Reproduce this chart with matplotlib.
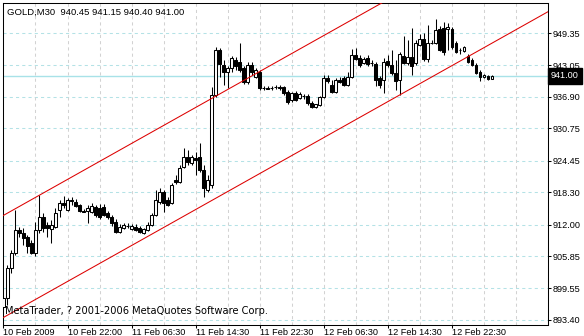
import matplotlib
matplotlib.use('Agg')
import matplotlib.pyplot as plt
import numpy as np

# GOLD M30 bars (oldest first)
opens = [
    895.9, 897.7, 903.5, 906.4, 910.95, 910.4, 909.6, 908.4, 906.4, 910.95,
    913.5, 911.9, 911.1, 911.5, 914.85, 916.2, 914.85, 916.8, 916.4, 915.8,
    914.65, 914.65, 914.5, 915.4, 915.2, 915.4, 914.3, 913.5, 912.5, 910.6,
    911.3, 911.7, 911.1, 911.5, 911.3, 910.4, 910.95, 911.9, 913.9, 916.4,
    918.3, 916.8, 916.2, 920.7, 920.3, 923.2, 925.2, 924.0, 925.0, 925.2,
    922.65, 918.75, 919.7, 937.3, 946.05, 943.1, 941.75, 942.5, 944.1, 943.7,
    942.5, 939.8, 943.1, 940.8, 941.75, 938.6, 938.6, 938.6, 938.8, 938.8,
    938.8, 937.85, 936.3, 937.7, 936.7, 937.1, 937.1, 935.7, 934.95, 935.3,
    936.9, 940.6, 939.2, 937.85, 940.2, 940.6, 939.2, 940.8, 945.1, 944.5,
    943.5, 944.5, 943.5, 943.3, 940.6, 940.2, 943.9, 943.1, 941.6, 940.2,
    944.9, 943.5, 944.7, 943.5, 947.0, 948.2, 944.3, 947.4, 947.4, 950.1,
    950.3, 950.1, 950.1, 947.4, 946.05, 945.85, 944.9, 944.1, 943.1, 941.75,
    940.8, 941.0, 940.45]
highs = [
    898.1, 904.1, 907.0, 914.85, 911.5, 911.3, 910.0, 909.0, 912.5, 917.8,
    914.3, 912.5, 912.9, 915.2, 916.8, 917.6, 917.2, 917.4, 917.0, 916.0,
    915.0, 915.8, 916.2, 915.8, 916.0, 916.0, 914.7, 913.9, 913.1, 912.1,
    912.3, 912.3, 912.1, 912.1, 911.7, 911.3, 912.5, 914.3, 918.75, 919.1,
    918.75, 917.4, 920.1, 921.7, 923.6, 926.9, 926.55, 925.6, 926.2, 927.9,
    923.6, 921.7, 938.8, 946.6, 946.4, 944.1, 942.9, 944.9, 944.7, 947.4,
    942.9, 943.7, 943.7, 942.5, 942.15, 939.0, 939.0, 939.0, 939.2, 939.2,
    939.0, 938.25, 937.85, 938.05, 937.85, 937.5, 937.5, 936.1, 935.5, 937.1,
    941.2, 941.2, 940.2, 940.6, 940.8, 941.0, 941.75, 946.2, 946.4, 945.1,
    944.7, 945.1, 944.1, 943.7, 941.0, 944.5, 945.1, 946.05, 944.1, 945.7,
    948.8, 948.0, 950.3, 948.0, 949.2, 949.35, 950.9, 948.0, 952.1, 950.7,
    951.5, 951.3, 950.5, 947.8, 946.4, 946.8, 945.3, 944.5, 943.5, 942.15,
    941.4, 941.2, 941.15]
lows = [
    893.8, 896.3, 902.5, 906.0, 909.6, 908.0, 906.4, 906.3, 905.9, 910.4,
    910.6, 909.6, 908.4, 911.3, 913.5, 915.2, 914.7, 915.8, 915.4, 914.5,
    914.5, 912.3, 914.3, 913.5, 913.1, 913.7, 913.1, 911.7, 910.4, 910.4,
    911.1, 911.3, 910.95, 910.8, 910.4, 910.2, 910.8, 911.7, 913.7, 916.0,
    914.5, 915.6, 916.0, 919.9, 920.1, 923.0, 923.6, 923.6, 921.7, 922.3,
    917.4, 918.4, 919.1, 936.9, 940.8, 939.2, 938.6, 941.75, 942.15, 941.75,
    939.4, 939.4, 941.2, 940.6, 938.25, 938.25, 938.4, 938.25, 938.4, 938.25,
    937.3, 935.5, 935.9, 936.1, 936.5, 936.5, 935.3, 934.75, 934.75, 935.1,
    936.7, 939.6, 937.7, 937.7, 939.6, 939.0, 939.0, 940.6, 944.1, 942.7,
    943.3, 942.9, 942.9, 939.0, 938.6, 937.7, 942.7, 941.2, 938.25, 937.3,
    943.3, 943.1, 941.2, 943.1, 946.8, 943.9, 943.7, 947.2, 947.2, 945.9,
    945.1, 946.05, 946.2, 945.5, 945.3, 945.65, 943.5, 942.9, 941.4, 940.0,
    940.6, 940.2, 940.40]
closes = [
    897.7, 903.5, 906.4, 910.95, 910.4, 909.4, 907.8, 906.4, 910.95, 913.5,
    911.3, 911.3, 911.9, 914.3, 916.2, 915.8, 916.8, 916.6, 915.6, 914.65,
    914.55, 915.2, 915.6, 913.9, 913.5, 913.9, 913.5, 912.3, 910.6, 911.5,
    911.9, 911.75, 911.7, 910.95, 910.6, 911.1, 911.9, 913.9, 916.8, 918.3,
    916.2, 915.8, 919.7, 920.3, 923.0, 925.2, 924.2, 925.2, 924.6, 922.65,
    919.1, 920.7, 937.3, 946.05, 943.3, 941.75, 942.5, 944.5, 942.9, 942.15,
    939.8, 943.1, 941.75, 942.15, 938.6, 938.65, 938.5, 938.65, 938.85, 938.6,
    937.7, 935.9, 937.7, 936.3, 937.5, 937.05, 935.7, 934.95, 935.5, 936.9,
    940.6, 940.0, 937.85, 940.2, 939.8, 939.2, 940.8, 945.1, 944.3, 943.1,
    944.3, 943.3, 943.55, 940.2, 939.2, 943.7, 943.1, 941.6, 940.0, 945.3,
    943.5, 944.7, 942.9, 947.4, 948.2, 944.3, 947.4, 947.5, 950.0, 946.05,
    945.7, 950.5, 946.6, 945.7, 946.0, 946.6, 943.7, 943.1, 941.6, 940.8,
    941.2, 940.4, 941.00]

x_label_bars = [0, 16, 32, 48, 64, 80, 96, 112]
x_labels = ['10 Feb 2009', '10 Feb 22:00', '11 Feb 06:30', '11 Feb 14:30',
            '11 Feb 22:30', '12 Feb 06:30', '12 Feb 14:30', '12 Feb 22:30']
y_levels = [949.35, 943.05, 936.90, 930.75, 924.45, 918.30, 912.00, 905.85, 899.55, 893.40]
last_price = 941.00

# channel: two anchor points per line
channel_bars = [0, 100]
channel_upper = [913.8, 957.6]
channel_lower = [893.9, 937.7]

title = 'GOLD,M30  940.45 941.15 940.40 941.00'
copyright_txt = 'MetaTrader, ? 2001-2006 MetaQuotes Software Corp.'

plt.rcParams['font.family'] = ['Liberation Sans', 'DejaVu Sans']
fs = 6.6
lw = 0.75

fig = plt.figure(figsize=(5.84, 3.36), dpi=100)
ax = fig.add_axes([0.0046, 0.0327, 0.9338, 0.9592])

o = np.array(opens); h = np.array(highs); l = np.array(lows); c = np.array(closes)
idx = np.arange(len(c))
up = c >= o
body_lo = np.minimum(o, c)
body_h = np.maximum(np.abs(c - o), 0.02)

# grid
for yv in y_levels:
    ax.axhline(yv, color='#b4e2e6', lw=lw, dashes=(3, 3), zorder=1)
for b in range(8, 137, 8):
    ax.axvline(b, color='#d2d2d2', lw=lw, dashes=(3, 3), zorder=1)
ax.axhline(last_price, color='#a8e2e8', lw=1.0, zorder=1.5)

# candles
ax.vlines(idx, np.minimum(l, body_lo), np.maximum(h, body_lo + body_h), color='black', lw=lw, zorder=3)
ax.bar(idx[up], body_h[up], bottom=body_lo[up], width=0.55, facecolor='white',
       edgecolor='black', lw=lw, zorder=4)
ax.bar(idx[~up], body_h[~up], bottom=body_lo[~up], width=0.55, facecolor='black',
       edgecolor='black', lw=lw, zorder=4)

# channel lines
ax.axline((channel_bars[0], channel_upper[0]), (channel_bars[1], channel_upper[1]),
          color='#dd0000', lw=lw, zorder=5)
ax.axline((channel_bars[0], channel_lower[0]), (channel_bars[1], channel_lower[1]),
          color='#dd0000', lw=lw, zorder=5)

ax.set_xlim(-0.2, 136.1)
ax.set_ylim(892.42, 955.26)

ax.set_xticks(x_label_bars, x_labels)
for t in ax.get_xticklabels():
    t.set_ha('left')
ax.tick_params(axis='x', length=2.5, width=lw, pad=0, labelsize=fs)
ax.yaxis.tick_right()
ax.set_yticks(y_levels, ['%.2f' % v for v in y_levels])
ax.tick_params(axis='y', length=2.5, width=lw, pad=1, labelsize=fs)
for s in ax.spines.values():
    s.set_linewidth(lw)

ax.annotate('%.2f' % last_price, xy=(1.0, last_price), xycoords=ax.get_yaxis_transform(),
            xytext=(2.2, 0), textcoords='offset points', ha='left', va='center',
            color='white', fontsize=fs, annotation_clip=False,
            bbox=dict(boxstyle='square,pad=0.35', fc='black', ec='black'))

ax.text(0.008, 0.964, title, transform=ax.transAxes, ha='left', va='baseline', fontsize=6.8)
ax.text(0.004, 0.034, copyright_txt, transform=ax.transAxes, ha='left', va='baseline',
        fontsize=7.1, family='DejaVu Sans', zorder=6)

fig.savefig('out.png', dpi=100, facecolor='white')
